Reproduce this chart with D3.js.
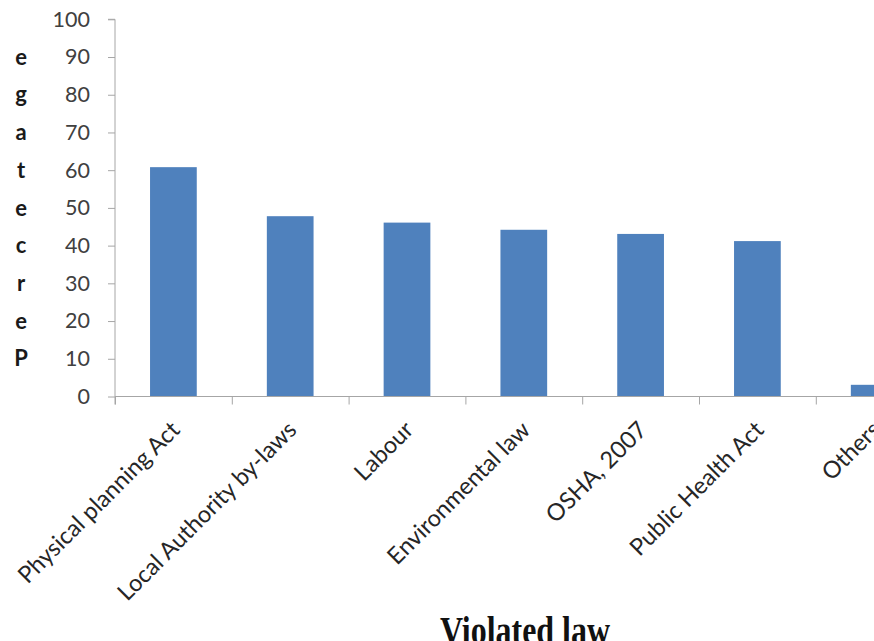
<!DOCTYPE html>
<html>
<head>
<meta charset="utf-8">
<script src="https://cdn.jsdelivr.net/npm/d3@7"></script>
<style>
  html, body { margin: 0; padding: 0; background: #fff; }
  svg { display: block; }
</style>
</head>
<body>
<svg id="chart" width="874" height="641"></svg>
<script>
const categories = ["Physical planning Act", "Local Authority by-laws", "Labour", "Environmental law", "OSHA, 2007", "Public Health Act", "Others"];
const values = [60.8, 47.8, 46.1, 44.2, 43.1, 41.2, 3.1];
const yTicks = [0, 10, 20, 30, 40, 50, 60, 70, 80, 90, 100];
const yTitleLetters = ["P", "e", "r", "c", "e", "t", "a", "g", "e"];
const xTitle = "Violated law";

const svg = d3.select("#chart");
const x0 = 115, step = 116.8;
const x = d3.scaleBand().domain(categories).range([x0, x0 + step * categories.length])
  .paddingInner(0.6).paddingOuter(0.3);
const xb = d3.scaleLinear().domain([0, categories.length]).range([x0, x0 + step * categories.length]);
const y = d3.scaleLinear().domain([0, 100]).range([396.5, 19.3]);

const axisColor = "#a6a6a6";
const labelFont = "Lato, 'Open Sans', sans-serif";

// bars
svg.append("g").selectAll("rect").data(values).join("rect")
  .attr("x", (d, i) => x(categories[i]))
  .attr("width", x.bandwidth())
  .attr("y", d => y(d))
  .attr("height", d => y(0) - y(d))
  .attr("fill", "#4f81bd");

// y axis
const ya = svg.append("g").attr("transform", `translate(${x0},0)`)
  .call(d3.axisLeft(y).tickValues(yTicks).tickSize(7).tickPadding(18).tickFormat(d3.format("d")));
ya.select(".domain").attr("stroke", axisColor).attr("d", `M-7,${y(100)}H0V${y(0) + 8}`);
ya.selectAll(".tick line").attr("stroke", axisColor);
ya.selectAll(".tick text").attr("font-family", labelFont).attr("font-size", 21.5).attr("fill", "#404040");

// x axis (ticks at category boundaries)
const xa = svg.append("g").attr("transform", `translate(0,${y(0)})`)
  .call(d3.axisBottom(xb).tickValues(d3.range(0, categories.length + 1)).tickSize(8).tickFormat(""));
xa.select(".domain").attr("stroke", axisColor).attr("d", `M${x0},0H${x0 + step * categories.length}`);
xa.selectAll(".tick line").attr("stroke", axisColor);

// category labels rotated
svg.append("g").selectAll("text").data(categories).join("text")
  .attr("transform", d => `translate(${x(d) + x.bandwidth() / 2 + 2},${y(0) + 29}) rotate(-45)`)
  .attr("text-anchor", "end")
  .attr("dy", "0.35em")
  .attr("font-family", labelFont)
  .attr("font-size", 23.5)
  .attr("fill", "#262626")
  .text(d => d);

// y title letters
svg.append("g").selectAll("text").data(yTitleLetters).join("text")
  .attr("x", 21)
  .attr("y", (d, i) => y((i + 1) * 10))
  .attr("dy", "0.35em")
  .attr("text-anchor", "middle")
  .attr("font-family", labelFont)
  .attr("font-weight", "bold")
  .attr("font-size", 22)
  .attr("fill", "#1a1a1a")
  .text(d => d);

// x title
svg.append("text")
  .attr("x", 525).attr("y", 644)
  .attr("text-anchor", "middle")
  .attr("font-family", "'Liberation Serif', 'Times New Roman', serif")
  .attr("font-weight", "bold")
  .attr("font-size", 41)
  .attr("textLength", 170)
  .attr("lengthAdjust", "spacingAndGlyphs")
  .attr("fill", "#111")
  .text(xTitle);
</script>
</body>
</html>
